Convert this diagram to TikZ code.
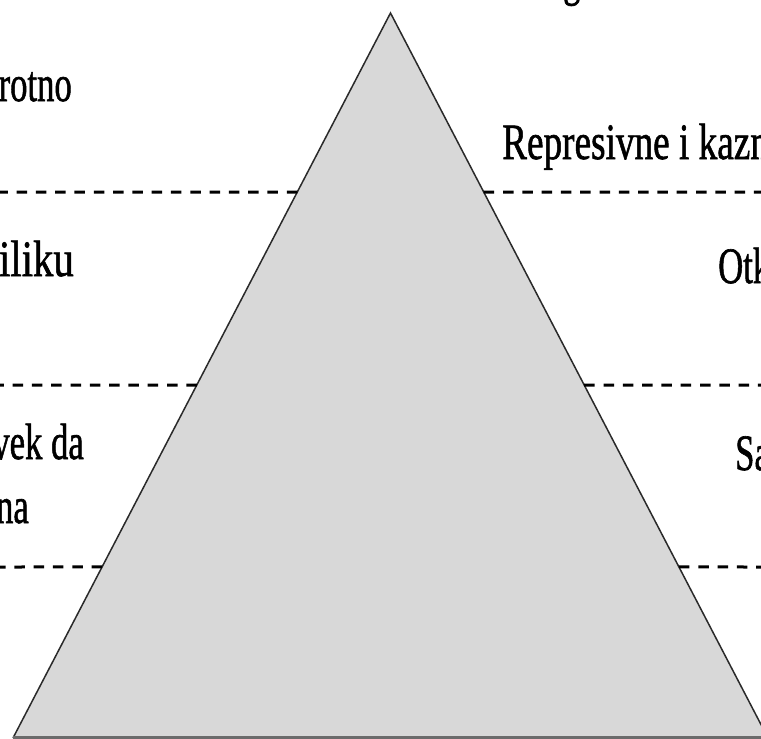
\documentclass[tikz,border=0pt]{standalone}
\usepackage{fontspec}
\setmainfont{Liberation Serif}
\newfontfamily\lblfont[FakeBold=1.3]{Liberation Serif}
\usetikzlibrary{calc}
\definecolor{trifill}{HTML}{D8D8D8}
\definecolor{triedge}{HTML}{2A2A2A}
\definecolor{basegray}{HTML}{6B6B6B}
\tikzset{
  dashline/.style={black, line width=3pt, dash pattern=on 10.5pt off 8.8pt},
  lbl/.style={inner sep=0pt, font=\lblfont\fontsize{51}{60}\selectfont},
}
\newcommand{\sq}[1]{\scalebox{0.68}[1]{#1}}
\newcommand{\sqr}[1]{\scalebox{0.73}[1]{#1}}
\newcommand{\sqw}[1]{\scalebox{0.8}[1]{#1}}
\begin{document}
\begin{tikzpicture}[x=1pt,y=-1pt]
\useasboundingbox (0,0) rectangle (761,739);
\clip (0,0) rectangle (761,739);
\coordinate (A) at (390.5,13);
\coordinate (L) at (13,738);
\coordinate (R) at (768,738);
% triangle
\fill[trifill] (A) -- (L) -- (R) -- cycle;
\draw[triedge, line width=1.5pt, line join=miter] (L) -- (A) -- (R);
\draw[basegray, line width=4pt] (L) -- (R);
% dashed levels
\coordinate (l1) at ($(A)!0.2469!(L)$);
\coordinate (r1) at ($(A)!0.2469!(R)$);
\coordinate (l2) at ($(A)!0.5131!(L)$);
\coordinate (r2) at ($(A)!0.5131!(R)$);
\coordinate (l3) at ($(A)!0.7641!(L)$);
\coordinate (r3) at ($(A)!0.7641!(R)$);
\coordinate (e1l) at (0,192);
\coordinate (e1r) at (761,192);
\coordinate (e2l) at (0,385);
\coordinate (e2r) at (761,385);
\coordinate (e3l) at (0,567);
\coordinate (e3r) at (761,567);
\draw[dashline] (l1) -- (e1l);
\draw[dashline] (r1) -- (e1r);
\draw[dashline] (l2) -- (e2l);
\draw[dashline] (r2) -- (e2r);
\draw[dashline] (l3) -- (e3l);
\draw[dashline] (r3) -- (e3r);
% labels
\node[lbl, anchor=base west] (tg) at (563,-5) {\sq{g}};
\node[lbl, anchor=base east] (t1) at (72,101) {\sq{rotno}};
\node[lbl, anchor=base west] (t2) at (502,159) {\sqr{Represivne i kazn}};
\node[lbl, anchor=base east] (t3) at (74,276) {\sqw{iliku}};
\node[lbl, anchor=base west] (t4) at (718,283) {\sq{Otk}};
\node[lbl, anchor=base east] (t5) at (84,459) {\sq{vek da}};
\node[lbl, anchor=base east] (t6) at (29,523) {\sq{na}};
\node[lbl, anchor=base west] (t7) at (735,470) {\sq{Sa}};
\end{tikzpicture}
\end{document}
